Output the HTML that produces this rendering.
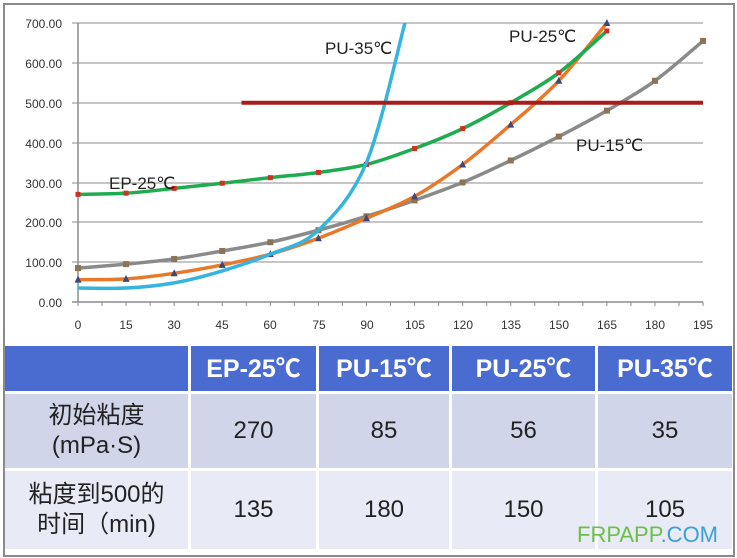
<!DOCTYPE html>
<html><head><meta charset="utf-8"><style>
body{margin:0;background:#fff;width:737px;height:558px;overflow:hidden;font-family:"Liberation Sans","Noto Sans CJK SC",sans-serif}
#wrap{position:absolute;left:3px;top:3px;width:728px;height:550px;border:2px solid #8a8a8a;background:#fff}
table{position:absolute;left:5px;top:346px;border-collapse:collapse;width:727px}
td{text-align:center;font-size:24px;color:#222;border-left:3px solid #fff;border-top:3px solid #fff;padding:0;line-height:30px}
tr.h td{background:#4a6cd0;color:#fff;font-weight:bold;height:45px;font-size:25px;border-top:none}
tr.r1 td{background:#d0d5ea;height:74px}
tr.r2 td{background:#e8eaf5;height:78px}
td:first-child{border-left:none}
</style></head><body>
<div id="wrap"></div>
<svg id="s" width="737" height="345" style="position:absolute;left:0;top:0" font-family="Liberation Sans, sans-serif">
<g stroke="#8c8c8c" stroke-width="1">
<line x1="72" y1="23" x2="703" y2="23"/><line x1="72" y1="63" x2="703" y2="63"/><line x1="72" y1="103" x2="703" y2="103"/><line x1="72" y1="143" x2="703" y2="143"/><line x1="72" y1="183" x2="703" y2="183"/><line x1="72" y1="222" x2="703" y2="222"/><line x1="72" y1="262" x2="703" y2="262"/>
<line x1="72" y1="302" x2="703" y2="302" stroke-width="1.5"/><line x1="78" y1="23" x2="78" y2="302" stroke-width="1.5"/>
</g>
<g id="ticks" stroke="#8c8c8c"></g>
<g font-size="12" fill="#333" text-anchor="end">
<text x="62" y="28">700.00</text><text x="62" y="68">600.00</text><text x="62" y="108">500.00</text><text x="62" y="148">400.00</text><text x="62" y="188">300.00</text><text x="62" y="227">200.00</text><text x="62" y="267">100.00</text><text x="62" y="307">0.00</text>
</g>
<g font-size="12" fill="#333" text-anchor="middle">
<text x="78" y="329">0</text><text x="126" y="329">15</text><text x="174" y="329">30</text><text x="222" y="329">45</text><text x="270" y="329">60</text><text x="319" y="329">75</text><text x="367" y="329">90</text><text x="415" y="329">105</text><text x="463" y="329">120</text><text x="511" y="329">135</text><text x="559" y="329">150</text><text x="607" y="329">165</text><text x="655" y="329">180</text><text x="703" y="329">195</text>
</g>
<g id="series"></g>
<g font-size="17" fill="#222">
<text x="325" y="54">PU-35℃</text><text x="509" y="42">PU-25℃</text><text x="109" y="189">EP-25℃</text><text x="576" y="151">PU-15℃</text>
</g>
</svg>
<table>
<tr class="h"><td style="width:183px"></td><td style="width:125px">EP-25℃</td><td style="width:130px">PU-15℃</td><td style="width:143px">PU-25℃</td><td>PU-35℃</td></tr>
<tr class="r1"><td>初始粘度<br>(mPa·S)</td><td>270</td><td>85</td><td>56</td><td>35</td></tr>
<tr class="r2"><td>粘度到500的<br>时间（min)</td><td>135</td><td>180</td><td>150</td><td>105</td></tr>
</table>
<div style="position:absolute;left:577px;top:522px;font-size:22px;color:#6cc04a;font-family:'Liberation Sans Narrow','Liberation Sans',sans-serif">FRPAPP<span style="color:#3aa0d8">.COM</span></div>
<script>
const X=t=>78+t*48.08/15, Y=v=>302-v*0.3986;
let tk='';for(let t=0;t<=195;t+=7.5){tk+=`<line x1="${X(t)}" y1="302" x2="${X(t)}" y2="306"/>`;}
document.getElementById('ticks').innerHTML=tk;
function path(pts){let p=pts.map(([t,v])=>[X(t),Y(v)]);let d=`M${p[0]}`;
for(let i=0;i<p.length-1;i++){let p0=p[i-1]||p[i],p1=p[i],p2=p[i+1],p3=p[i+2]||p2;
d+=`C${p1[0]+(p2[0]-p0[0])/6},${p1[1]+(p2[1]-p0[1])/6} ${p2[0]-(p3[0]-p1[0])/6},${p2[1]-(p3[1]-p1[1])/6} ${p2[0]},${p2[1]}`;}return d;}
const S=[
{c:'#8a8a8a',m:'sq',mc:'#8b7355',d:[85,95,108,128,150,180,215,255,300,355,415,480,555,655]},
{c:'#e8782a',m:'tri',mc:'#3a4a7a',d:[56,58,72,93,120,160,210,265,345,445,555,700]},
{c:'#1fab4f',m:'x',mc:'#d03020',d:[270,273,285,298,312,325,345,385,435,500,575,680]},
];
let h='';
S.forEach(s=>{let pts=s.d.map((v,i)=>[i*15,v]);h+=`<path d="${path(pts)}" fill="none" stroke="${s.c}" stroke-width="3.5"/>`;
pts.forEach(([t,v])=>{let x=X(t),y=Y(v);
if(s.m=='sq')h+=`<rect x="${x-3}" y="${y-3}" width="6" height="6" fill="${s.mc}"/>`;
else if(s.m=='tri')h+=`<path d="M${x},${y-4}L${x+3.5},${y+3}L${x-3.5},${y+3}Z" fill="${s.mc}"/>`;
else h+=`<rect x="${x-2.5}" y="${y-2.5}" width="5" height="5" fill="${s.mc}"/>`;});});
let b=[[0,35],[15,35],[30,48],[45,78],[60,120],[75,180],[90,350],[102,700]];
h+=`<path d="${path(b)}" fill="none" stroke="#35b4e0" stroke-width="3.5"/>`;
h+=`<line x1="${X(51)}" y1="${Y(500)}" x2="${X(195)}" y2="${Y(500)}" stroke="#a81c1c" stroke-width="4"/>`;
document.getElementById('series').innerHTML=h;
</script>
</body></html>
